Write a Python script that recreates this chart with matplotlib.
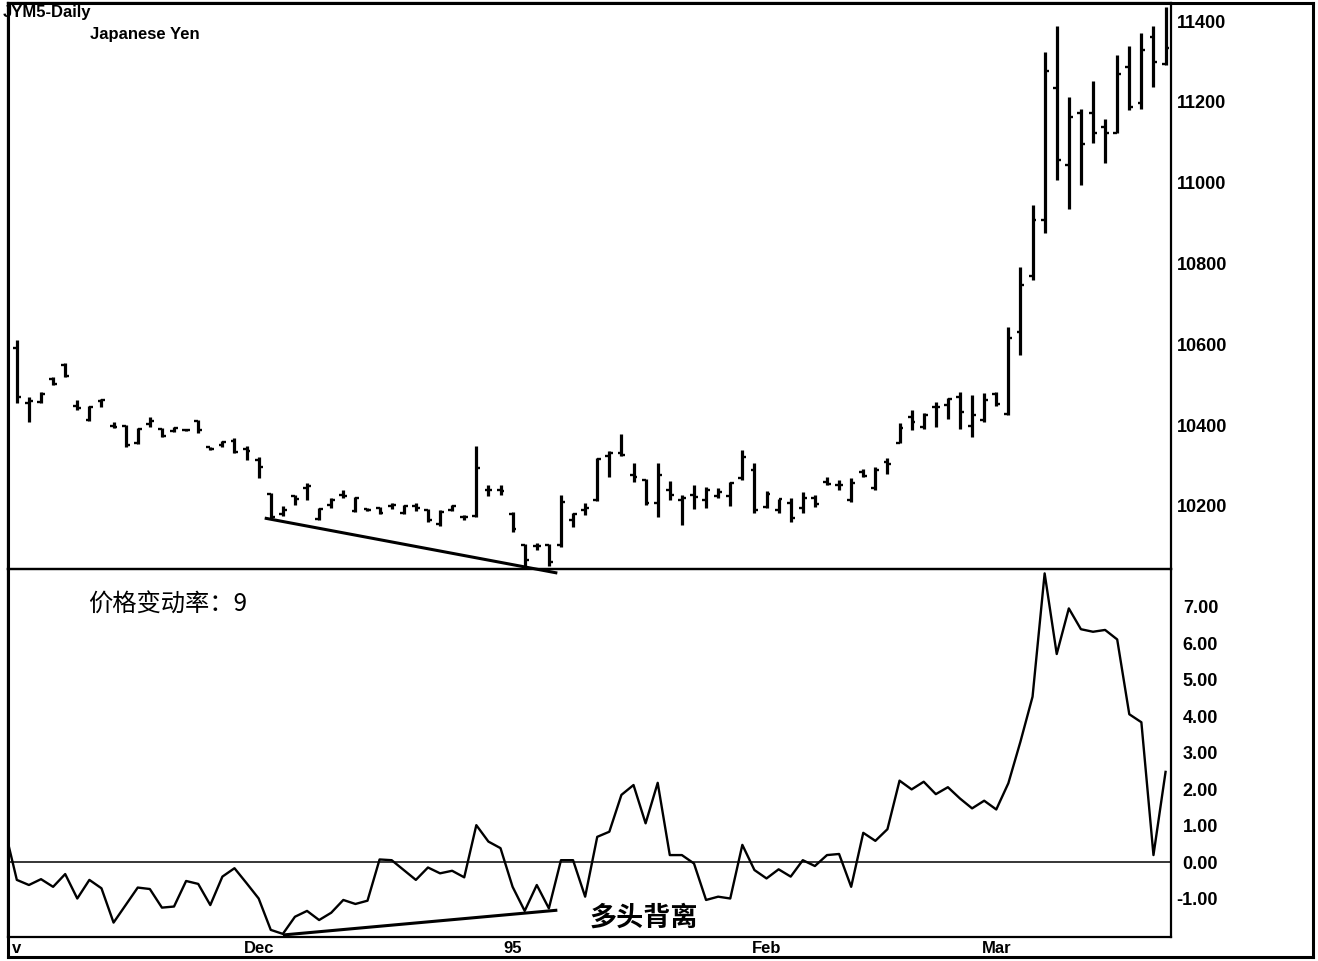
import numpy as np
import matplotlib
matplotlib.use("Agg")
import matplotlib.pyplot as plt

plt.rcParams['font.family'] = ['Liberation Sans', 'DejaVu Sans']

# JYM5 daily bars, 1 Nov 1994 .. 21 Mar 1995 (trading days only)
opens = [10590, 10455, 10458, 10515, 10548, 10447, 10413, 10460, 10397, 10398,
         10355, 10403, 10390, 10385, 10388, 10410, 10345, 10350, 10361, 10342,
         10315, 10230, 10180, 10225, 10245, 10168, 10202, 10227, 10188, 10192,
         10195, 10200, 10183, 10200, 10190, 10155, 10190, 10172, 10175, 10240,
         10240, 10180, 10103, 10100, 10103, 10103, 10165, 10190, 10215, 10324,
         10330, 10277, 10264, 10207, 10240, 10215, 10227, 10215, 10225, 10225,
         10269, 10289, 10198, 10190, 10207, 10195, 10220, 10259, 10252, 10215,
         10285, 10245, 10310, 10356, 10420, 10395, 10445, 10450, 10470, 10398,
         10413, 10477, 10428, 10630, 10769, 10908, 11235, 11044, 11173, 11173,
         11138, 11123, 11287, 11197, 11361, 11294]
highs = [10611, 10470, 10482, 10519, 10554, 10462, 10447, 10465, 10408, 10400,
         10393, 10420, 10393, 10395, 10390, 10413, 10346, 10361, 10368, 10349,
         10321, 10232, 10200, 10227, 10257, 10195, 10220, 10240, 10222, 10195,
         10198, 10207, 10202, 10207, 10193, 10190, 10202, 10178, 10349, 10252,
         10252, 10185, 10106, 10108, 10106, 10227, 10183, 10207, 10319, 10336,
         10378, 10306, 10267, 10306, 10262, 10227, 10252, 10247, 10245, 10259,
         10339, 10306, 10237, 10217, 10220, 10235, 10227, 10272, 10264, 10269,
         10292, 10297, 10319, 10405, 10438, 10430, 10457, 10467, 10482, 10475,
         10480, 10482, 10643, 10792, 10945, 11324, 11388, 11212, 11183, 11252,
         11158, 11316, 11339, 11371, 11388, 11435]
lows = [10455, 10408, 10455, 10500, 10519, 10438, 10410, 10445, 10393, 10346,
        10353, 10395, 10371, 10383, 10386, 10381, 10339, 10346, 10331, 10314,
        10269, 10170, 10175, 10202, 10215, 10165, 10195, 10220, 10185, 10188,
        10180, 10193, 10180, 10188, 10160, 10150, 10188, 10165, 10173, 10225,
        10227, 10136, 10049, 10091, 10052, 10099, 10148, 10178, 10212, 10272,
        10324, 10259, 10202, 10173, 10215, 10153, 10193, 10195, 10220, 10200,
        10264, 10183, 10195, 10183, 10160, 10183, 10198, 10252, 10240, 10210,
        10272, 10240, 10279, 10356, 10388, 10391, 10395, 10415, 10391, 10371,
        10408, 10447, 10425, 10574, 10759, 10876, 11007, 10935, 10994, 11098,
        11049, 11123, 11180, 11183, 11237, 11291]
closes = [10470, 10460, 10478, 10503, 10522, 10443, 10445, 10462, 10395, 10350,
          10390, 10410, 10373, 10392, 10388, 10387, 10342, 10358, 10333, 10335,
          10297, 10173, 10190, 10217, 10250, 10193, 10215, 10225, 10220, 10190,
          10183, 10202, 10200, 10195, 10165, 10185, 10200, 10173, 10294, 10240,
          10238, 10143, 10066, 10101, 10061, 10210, 10180, 10195, 10316, 10331,
          10326, 10272, 10207, 10277, 10227, 10220, 10222, 10240, 10235, 10257,
          10321, 10190, 10230, 10217, 10170, 10220, 10205, 10255, 10252, 10257,
          10275, 10289, 10305, 10393, 10408, 10425, 10445, 10465, 10433, 10425,
          10462, 10452, 10616, 10747, 10908, 11277, 11056, 11163, 11096, 11123,
          11123, 11269, 11188, 11329, 11299, 11334]

# 9-day price rate of change; first value belongs to the day before the first bar
roc = [0.90,
       -0.49, -0.63, -0.47, -0.68, -0.33, -1.00, -0.49, -0.72, -1.66, -1.18,
       -0.70, -0.74, -1.25, -1.22, -0.52, -0.60, -1.18, -0.40, -0.17, -0.58,
       -1.00, -1.86, -1.97, -1.50, -1.34, -1.59, -1.39, -1.04, -1.15, -1.06,
       0.07, 0.05, -0.22, -0.49, -0.15, -0.31, -0.24, -0.42, 1.01, 0.56,
       0.38, -0.68, -1.34, -0.63, -1.27, 0.05, 0.05, -0.95, 0.69, 0.83,
       1.84, 2.11, 1.06, 2.17, 0.19, 0.19, -0.04, -1.04, -0.95, -1.00,
       0.47, -0.22, -0.45, -0.20, -0.40, 0.05, -0.11, 0.19, 0.22, -0.68,
       0.80, 0.58, 0.90, 2.23, 1.99, 2.20, 1.86, 2.05, 1.74, 1.47,
       1.68, 1.44, 2.16, 3.30, 4.53, 7.91, 5.70, 6.95, 6.38, 6.31,
       6.36, 6.10, 4.05, 3.83, 0.19, 2.47]

date_ticks = [0, 20, 41, 62, 81]
date_labels = ["v", "Dec", "95", "Feb", "Mar"]
price_ticks = [10200, 10400, 10600, 10800, 11000, 11200, 11400]
roc_ticks = [-1, 0, 1, 2, 3, 4, 5, 6, 7]

# bullish divergence trend lines (bar index, value)
price_div_x = [20.5, 44.7]
price_div_y = [10170, 10034]
roc_div_x = [22.0, 44.7]
roc_div_y = [-2.0, -1.32]

W, H = 1318, 961
fig = plt.figure(figsize=(W / 100, H / 100), dpi=100)


def box(x0, y0, x1, y1):
    # pixel box (top-left origin) -> figure rect
    return [x0 / W, 1 - y1 / H, (x1 - x0) / W, (y1 - y0) / H]


frame = fig.add_axes(box(8, 3, 1313, 957))
frame.set_xticks([])
frame.set_yticks([])
for s in frame.spines.values():
    s.set_linewidth(2.2)

ax1 = fig.add_axes(box(8, 3, 1171, 569))
ax2 = fig.add_axes(box(8, 569, 1171, 937), sharex=ax1)
for ax in (ax1, ax2):
    ax.set_facecolor('none')
    for s in ax.spines.values():
        s.set_linewidth(1.6)

# price bars
x = np.arange(len(opens))
ax1.vlines(x, lows, highs, color='k', lw=2.3)
ax1.hlines(opens, x - 0.32, x, color='k', lw=1.7)
ax1.hlines(closes, x, x + 0.32, color='k', lw=1.7)
ax1.plot(price_div_x, price_div_y, color='k', lw=2.2, clip_on=False,
         solid_capstyle='butt')

ax1.set_ylim(10044, 11445)
ax1.yaxis.tick_right()
ax1.set_yticks(price_ticks)
ax1.set_yticklabels([str(v) for v in price_ticks], fontweight='bold')
ax1.tick_params(axis='y', length=0, pad=4, labelsize=13)
ax1.tick_params(axis='x', bottom=False, labelbottom=False)

# rate of change
rx = np.arange(len(roc)) - 1
ax2.plot(rx, roc, color='k', lw=1.7)
ax2.axhline(0, color='k', lw=1.1)
ax2.plot(roc_div_x, roc_div_y, color='k', lw=2.2, clip_on=False,
         solid_capstyle='butt')
ax2.set_ylim(-2.055, 8.03)
ax2.yaxis.tick_right()
ax2.set_yticks(roc_ticks)
ax2.set_yticklabels(['%.2f' % v for v in roc_ticks], fontweight='bold')
ax2.tick_params(axis='y', length=0, pad=34, labelsize=13)
for lab in ax2.get_yticklabels():
    lab.set_horizontalalignment('right')
ax2.set_xticks(date_ticks)
ax2.set_xticklabels(date_labels, fontweight='bold')
ax2.tick_params(axis='x', length=0, pad=3, labelsize=12)
ax1.set_xlim(-0.73, 95.45)

fig.text(3 / W, 1 - 5 / H, "JYM5-Daily", fontsize=12, fontweight='bold',
         va='top', ha='left')
ax1.text((90 - 8) / 1163, 1 - (35 - 3) / 566, "Japanese Yen", fontsize=12,
         fontweight='bold', va='center', ha='left', transform=ax1.transAxes)

cjk = ['Noto Sans CJK SC', 'DejaVu Sans']
ax2.text((88 - 8) / 1163, (937 - 604) / 368, "价格变动率：9", fontsize=17.5,
         family=cjk, va='center', ha='left', transform=ax2.transAxes)
ax2.text((590 - 8) / 1163, (937 - 918) / 368, "多头背离", fontsize=19.5,
         family=cjk, fontweight='bold', va='center', ha='left',
         transform=ax2.transAxes)

fig.savefig("out.png", dpi=100, facecolor='white')
